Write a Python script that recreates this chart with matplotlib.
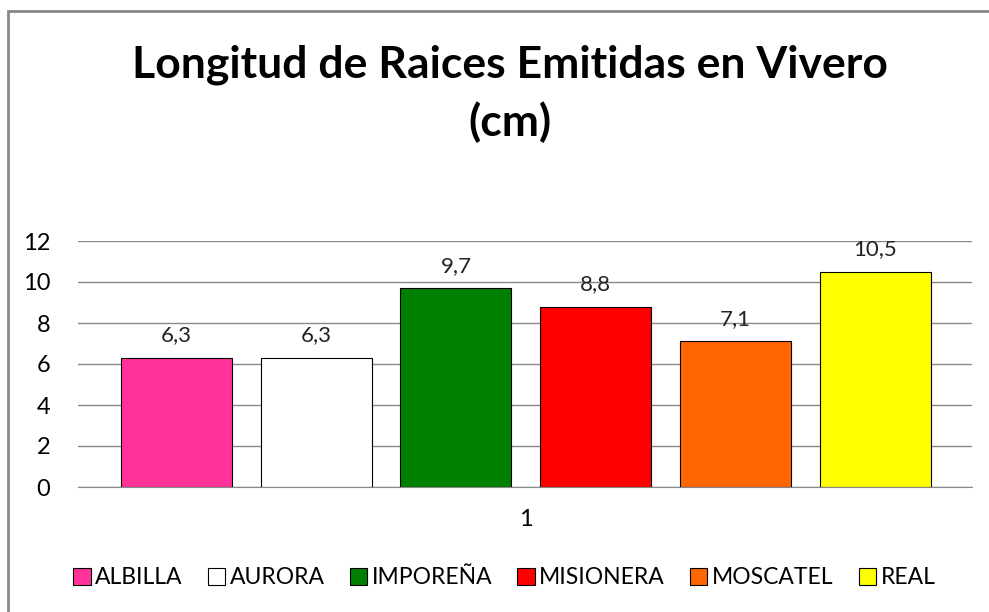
import matplotlib.pyplot as plt
from matplotlib.patches import Rectangle

plt.rcParams['font.family'] = ['Lato', 'DejaVu Sans']

varieties = ['ALBILLA', 'AURORA', 'IMPOREÑA', 'MISIONERA', 'MOSCATEL', 'REAL']
lengths = [6.3, 6.3, 9.7, 8.8, 7.1, 10.5]
colors = ['#ff3399', '#ffffff', '#008000', '#ff0000', '#ff6600', '#ffff00']
yticks = [0, 2, 4, 6, 8, 10, 12]

fig = plt.figure(figsize=(9.89, 6.12), dpi=100)
ax = fig.add_axes([78 / 989, 1 - 487 / 612, 894 / 989, 246 / 612])

handles = []
for i, (name, val, c) in enumerate(zip(varieties, lengths, colors)):
    b = ax.bar(i, val, width=0.795, color=c, edgecolor='black', linewidth=0.8, label=name)
    handles.append(b)
    ax.text(i, val + 0.6, f'{val:.1f}'.replace('.', ','), ha='center', va='bottom',
            fontsize=16, color='#222222')

ax.set_xlim(-0.705, 5.694)
ax.set_ylim(0, 12)
ax.set_yticks(yticks)
ax.tick_params(axis='y', length=0, labelsize=17, pad=20)
ax.set_xticks([2.5])
ax.set_xticklabels(['1'])
ax.tick_params(axis='x', length=0, labelsize=17, pad=16)
ax.yaxis.grid(True, color='#888888', linewidth=1)
ax.set_axisbelow(True)
for s in ['top', 'right', 'left']:
    ax.spines[s].set_visible(False)
ax.spines['bottom'].set_color('#888888')

fig.text(0.516, 1 - 65 / 612, 'Longitud de Raices Emitidas en Vivero', ha='center', va='center',
         fontsize=32, fontweight='bold')
fig.text(0.516, 1 - 122 / 612, '(cm)', ha='center', va='center', fontsize=32, fontweight='bold')

fig.legend(handles=handles, loc='center', bbox_to_anchor=(0.51, 1 - 578 / 612), ncol=6,
           frameon=False, fontsize=16.5, handlelength=0.75, handleheight=0.75, handletextpad=0.2,
           columnspacing=1.1)

fig.patches.append(Rectangle((8 / 989, -0.05), 990 / 989, 1.05 - 11 / 612, transform=fig.transFigure,
                             fill=False, edgecolor='#888888', linewidth=2))

fig.savefig('out.png', dpi=100)
